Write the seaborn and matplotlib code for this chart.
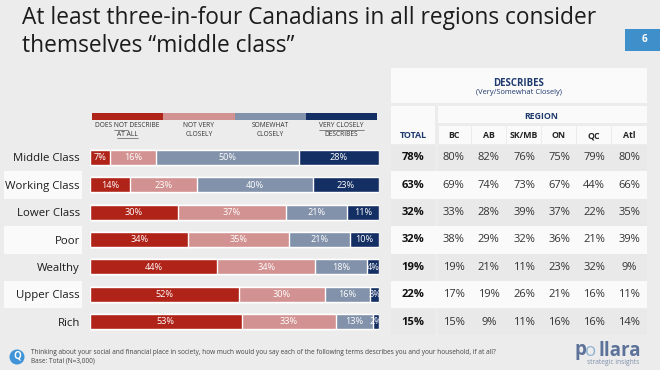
import numpy as np
import matplotlib
matplotlib.use("Agg")
import matplotlib.pyplot as plt
from matplotlib.patches import Rectangle, Circle
import seaborn as sns

# Data

classes = ["Middle Class", "Working Class", "Lower Class", "Poor", "Wealthy", "Upper Class", "Rich"]
not_at_all = [7, 14, 30, 34, 44, 52, 53]
not_very = [16, 23, 37, 35, 34, 30, 33]
somewhat = [50, 40, 21, 21, 18, 16, 13]
very = [28, 23, 11, 10, 4, 3, 2]

total = [78, 63, 32, 32, 19, 22, 15]
regions = ["BC", "AB", "SK/MB", "ON", "QC", "Atl"]
bc = [80, 69, 33, 38, 19, 17, 15]
ab = [82, 74, 28, 29, 21, 19, 9]
sk_mb = [76, 73, 39, 32, 11, 26, 11]
on = [75, 67, 37, 36, 23, 21, 16]
qc = [79, 44, 22, 21, 32, 16, 16]
atl = [80, 66, 35, 39, 9, 11, 14]

legend_labels = ["DOES NOT DESCRIBE\nAT ALL", "NOT VERY\nCLOSELY", "SOMEWHAT\nCLOSELY", "VERY CLOSELY\nDESCRIBES"]
colors = ["#B02318", "#D29291", "#8292AA", "#142F63"]

sns.set_theme(style="white")
plt.rcParams["font.family"] = ["Open Sans", "DejaVu Sans"]

BG = "#ECECEC"
WHITE = "#FAFAFA"
NAVY = "#1F3A6E"

fig = plt.figure(figsize=(6.6, 3.7), dpi=100, facecolor=BG)

# Page layer in pixel coordinates

page = fig.add_axes([0, 0, 1, 1])
page.set_xlim(0, 660)
page.set_ylim(370, 0)
page.axis("off")


def box(x0, y0, x1, y1, color):
    page.add_patch(Rectangle((x0, y0), x1 - x0, y1 - y0, fc=color, ec="none"))


page.text(22.5, 24, "At least three-in-four Canadians in all regions consider",
          fontsize=16.35, color="#1c1c1c", va="baseline")
page.text(22.5, 52, "themselves \u201cmiddle class\u201d",
          fontsize=16.35, color="#1c1c1c", va="baseline")

box(625, 29, 660, 51, "#3F8FCB")
page.text(644, 40, "6", color="white", fontsize=7, fontweight="bold", ha="center", va="center")

# Table

row_top = 144
row_h = 27.4
col_x = [453.7, 488.7, 524, 559, 594, 629]
col_edges = [438, 471.5, 506.5, 541.5, 576.5, 611.5, 647]

box(391, 68, 647, 103, WHITE)
box(391, 106, 435, 144, WHITE)
box(438, 106, 647, 123, WHITE)
for i in range(6):
    box(col_edges[i] + 0.5, 126, col_edges[i + 1] - 0.5, 144, WHITE)

page.text(519, 83, "DESCRIBES", fontsize=6.9, fontweight="bold", color=NAVY, ha="center", va="center")
page.text(519, 93, "(Very/Somewhat Closely)", fontsize=5.4, color=NAVY, ha="center", va="center")
page.text(541.5, 116.5, "REGION", fontsize=6.3, fontweight="bold", color=NAVY, ha="center", va="center")
page.text(413, 136, "TOTAL", fontsize=6.4, fontweight="bold", color=NAVY, ha="center", va="center")
for x, name in zip(col_x, regions):
    page.text(x, 136, name, fontsize=6.3, fontweight="bold", color="#222222", ha="center", va="center")

region_cols = [bc, ab, sk_mb, on, qc, atl]
for r in range(len(classes)):
    top = row_top + r * row_h
    mid = top + row_h / 2
    if r % 2 == 0:
        box(391, top + 0.5, 435, top + row_h - 0.5, "#E9E9E9")
        box(438, top + 0.5, 647, top + row_h - 0.5, "#E9E9E9")
    else:
        box(4, top, 82, top + row_h, WHITE)
        box(391, top, 647, top + row_h, WHITE)
    page.text(413, mid, f"{total[r]}%", fontsize=8, fontweight="bold", color="#111111", ha="center", va="center")
    for x, col in zip(col_x, region_cols):
        page.text(x, mid, f"{col[r]}%", fontsize=8, color="#333333", ha="center", va="center")

# Legend strip

for i, (c, lab) in enumerate(zip(colors, legend_labels)):
    x0 = 92 + i * 71.25
    box(x0, 113, x0 + 71.25, 120, c)
    page.text(x0 + 35.6, 130, lab, fontsize=4.8, color="#333333", ha="center", va="center", linespacing=1.42)

# underlined words in the legend
page.plot([114, 128], [130.3, 130.3], color="#333333", lw=0.4)
page.plot([117, 138], [138, 138], color="#333333", lw=0.4)
page.plot([319, 364], [130.3, 130.3], color="#333333", lw=0.4)
page.set_xlim(0, 660)
page.set_ylim(370, 0)

# Footer

page.add_patch(Circle((17, 357), 7.5, fc="#3F93D6", ec="none"))
page.text(17, 356.5, "Q", color="white", fontsize=7, fontweight="bold", ha="center", va="center")
page.text(31, 353, "Thinking about your social and financial place in society, how much would you say each of the following terms describes you and your household, if at all?",
          fontsize=4.73, color="#444444", va="center")
page.text(31, 361, "Base: Total (N=3,000)", fontsize=4.73, color="#444444", va="center")

page.text(574, 355.5, "p", fontsize=13.5, fontweight="bold", color="#5C7299", va="baseline")
page.text(585.5, 355.5, "o", fontsize=13.5, color="#94B4D2", va="baseline")
page.text(598, 355.5, "llara", fontsize=13.5, fontweight="bold", color="#5C7299", va="baseline")
page.text(639, 363, "strategic insights", fontsize=4.8, color="#7E8FA8", ha="right", va="center")

# Stacked bars, drawn from the full length back to the first segment

ax = fig.add_axes([90 / 660, (370 - 335.2) / 370, 289 / 660, 191.4 / 370])
ax.patch.set_alpha(0)

series = np.array([not_at_all, not_very, somewhat, very], dtype=float)
shares = series / series.sum(axis=0)
cum = shares.cumsum(axis=0)

for i in range(3, -1, -1):
    sns.barplot(x=cum[i], y=classes, color=colors[i], saturation=1, width=0.55, ax=ax)

ax.set_xlim(0, 1)
ax.set_ylim(6.5, -0.5)
ax.set_xlabel("")
ax.set_ylabel("")
ax.set_xticks([])
sns.despine(ax=ax, left=True, bottom=True)
ax.tick_params(axis="y", length=0, pad=7.3, labelsize=8.2, labelcolor="#1c1c1c")

for i in range(4):
    for r in range(len(classes)):
        ax.text(cum[i][r] - shares[i][r] / 2, r + 0.01, f"{int(series[i][r])}%",
                color="white", fontsize=6.6, ha="center", va="center", clip_on=True)

fig.savefig("out.png", dpi=100, facecolor=BG)
